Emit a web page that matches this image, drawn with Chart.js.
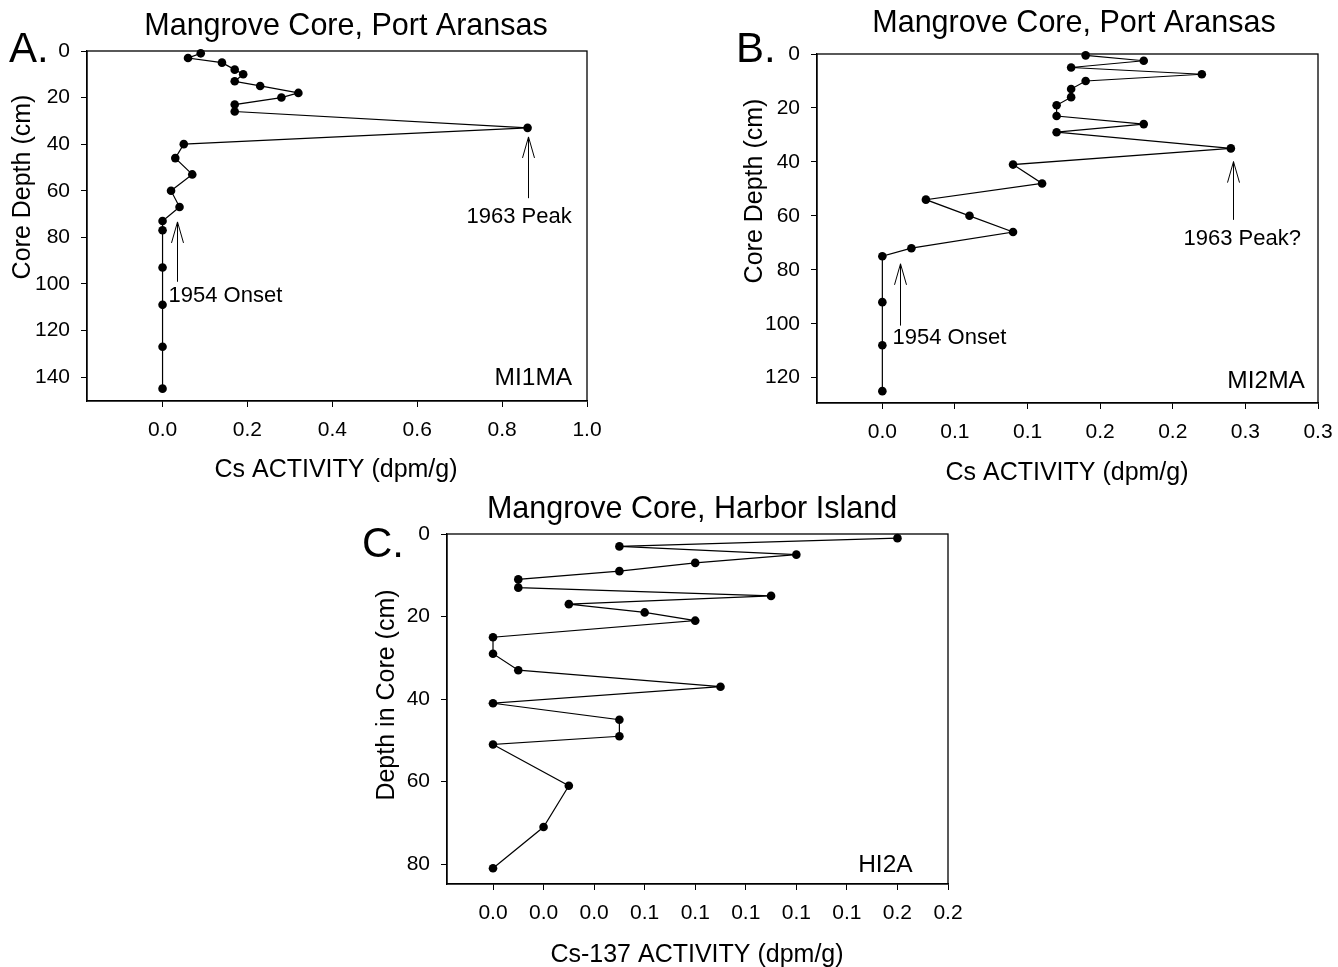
<!DOCTYPE html>
<html><head><meta charset="utf-8">
<script src="https://cdn.jsdelivr.net/npm/chart.js@4.4.0/dist/chart.umd.min.js"></script>
<style>
html,body{margin:0;padding:0;background:#fff;width:1338px;height:967px;overflow:hidden;}
.box{position:absolute;}
canvas{display:block;}
</style></head><body>
<div class="box" style="left:0;top:0;"><canvas id="cA" width="620" height="490"></canvas></div>
<div class="box" style="left:730px;top:0;"><canvas id="cB" width="620" height="490"></canvas></div>
<div class="box" style="left:360px;top:490px;"><canvas id="cC" width="620" height="477"></canvas></div>
<script>
// ---------- DATA ----------
const depthA = [1,3,5,8,10,13,15,18,20,23,26,33,40,46,53,60,67,73,77,93,109,127,145];
const csA    = [0.09,0.06,0.14,0.17,0.19,0.17,0.23,0.32,0.28,0.17,0.17,0.86,0.05,0.03,0.07,0.02,0.04,0,0,0,0,0,0];
const xTicksA = [0,0.2,0.4,0.6,0.8,1.0];
const xTickLabelsA = ['0.0','0.2','0.4','0.6','0.8','1.0'];
const yTicksA = [0,20,40,60,80,100,120,140];

const depthB = [0.5,2.5,5,7.5,10,13,16,19,23,26,29,35,41,48,54,60,66,72,75,92,108,125];
const csB    = [0.14,0.18,0.13,0.22,0.14,0.13,0.13,0.12,0.12,0.18,0.12,0.24,0.09,0.11,0.03,0.06,0.09,0.02,0,0,0,0];
const xTicksB = [0,0.05,0.1,0.15,0.2,0.25,0.3];
const xTickLabelsB = ['0.0','0.1','0.1','0.2','0.2','0.3','0.3'];
const yTicksB = [0,20,40,60,80,100,120];

const depthC = [1,3,5,7,9,11,13,15,17,19,21,25,29,33,37,41,45,49,51,61,71,81];
const csC    = [0.16,0.05,0.12,0.08,0.05,0.01,0.01,0.11,0.03,0.06,0.08,0,0,0.01,0.09,0,0.05,0.05,0,0.03,0.02,0];
const xTicksC = [0,0.02,0.04,0.06,0.08,0.10,0.12,0.14,0.16,0.18];
const xTickLabelsC = ['0.0','0.0','0.0','0.1','0.1','0.1','0.1','0.1','0.2','0.2'];
const yTicksC = [0,20,40,60,80];

// ---------- SETUP ----------
const FONT = "'Liberation Sans', Arial, sans-serif";
Chart.defaults.font.family = FONT;
Chart.defaults.color = '#000';

const decor = {
  id: 'decor',
  afterDraw(chart, args, o) {
    const ctx = chart.ctx, a = chart.chartArea, xs = chart.scales.x, ys = chart.scales.y;
    ctx.save();
    ctx.strokeStyle = '#000';
    ctx.lineWidth = 1.3;
    ctx.strokeRect(a.left, a.top, a.right - a.left, a.bottom - a.top);
    ctx.fillStyle = '#000';
    ctx.textBaseline = 'alphabetic';
    (o.texts || []).forEach(t => {
      ctx.font = t.size + 'px ' + FONT;
      ctx.textAlign = t.align || 'center';
      if (t.rot) {
        ctx.save();
        ctx.translate(t.x, t.y);
        ctx.rotate(-Math.PI / 2);
        ctx.fillText(t.text, 0, 0);
        ctx.restore();
      } else {
        ctx.fillText(t.text, t.x, t.y);
      }
    });
    (o.dataTexts || []).forEach(t => {
      ctx.font = t.size + 'px ' + FONT;
      ctx.textAlign = t.align || 'center';
      ctx.fillText(t.text, xs.getPixelForValue(t.x), ys.getPixelForValue(t.y));
    });
    ctx.lineWidth = 1;
    (o.arrows || []).forEach(ar => {
      const x = Math.round(xs.getPixelForValue(ar.x)) + 0.5;
      const yt = ys.getPixelForValue(ar.y1), yb = ys.getPixelForValue(ar.y2);
      ctx.beginPath();
      ctx.moveTo(x, yb); ctx.lineTo(x, yt);
      ctx.moveTo(x - 6, yt + 21); ctx.lineTo(x, yt); ctx.lineTo(x + 6, yt + 21);
      ctx.stroke();
    });
    ctx.restore();
  }
};

function makeChart(id, xs, ys, xmin, xmax, ymax, xTicks, xLabels, yTicks, xH, pad, decorOpts) {
  const pts = xs.map((v, i) => ({ x: v, y: ys[i] }));
  return new Chart(document.getElementById(id), {
    type: 'scatter',
    data: { datasets: [{
      data: pts, showLine: true, borderColor: '#000', borderWidth: 1.2,
      pointRadius: 4.3, pointBackgroundColor: '#000', pointBorderWidth: 0,
      clip: false, tension: 0
    }]},
    options: {
      responsive: false, animation: false, devicePixelRatio: 1,
      layout: { padding: pad },
      plugins: { legend: { display: false }, tooltip: { enabled: false }, decor: decorOpts },
      scales: {
        x: {
          type: 'linear', min: xmin, max: xmax,
          afterBuildTicks: s => { s.ticks = xTicks.map(v => ({ value: v })); },
          afterFit: s => { s.height = xH; },
          ticks: { callback: (v, i) => xLabels[i], font: { size: 21 }, padding: 11, color: '#000', maxRotation: 0, autoSkip: false },
          grid: { drawOnChartArea: false, drawTicks: true, tickLength: 6, tickColor: '#000', color: '#000' },
          border: { display: true, color: '#000', width: 1.3 }
        },
        y: {
          type: 'linear', reverse: true, min: 0, max: ymax,
          afterBuildTicks: s => { s.ticks = yTicks.map(v => ({ value: v })); },
          afterFit: s => { s.width = 87; },
          ticks: { callback: v => String(v), font: { size: 21 }, padding: 11, color: '#000', autoSkip: false },
          grid: { drawOnChartArea: false, drawTicks: true, tickLength: 6, tickColor: '#000', color: '#000' },
          border: { display: true, color: '#000', width: 1.3 }
        }
      }
    },
    plugins: [decor]
  });
}

makeChart('cA', csA, depthA, -0.178, 1.0, 150.3, xTicksA, xTickLabelsA, yTicksA, 89,
  { left: 0, right: 33, top: 51, bottom: 0 },
  {
    texts: [
      { text: 'A.', x: 9, y: 62, size: 42, align: 'left' },
      { text: 'Mangrove Core, Port Aransas', x: 346, y: 35, size: 30.5 },
      { text: 'Cs ACTIVITY (dpm/g)', x: 336, y: 477, size: 25 },
      { text: 'Core Depth (cm)', x: 30, y: 187, size: 25, rot: true }
    ],
    dataTexts: [
      { text: '1963 Peak', x: 0.84, y: 74, size: 22 },
      { text: '1954 Onset', x: 0.014, y: 107.7, size: 22, align: 'left' },
      { text: 'MI1MA', x: 0.965, y: 143.5, size: 24.5, align: 'right' }
    ],
    arrows: [ { x: 0.86, y1: 36.9, y2: 63.2 }, { x: 0.035, y1: 73.4, y2: 99.1 } ]
  });

makeChart('cB', csB, depthB, -0.045, 0.3, 129.4, xTicksB, xTickLabelsB, yTicksB, 87,
  { left: 0, right: 32, top: 54, bottom: 0 },
  {
    texts: [
      { text: 'B.', x: 6, y: 62, size: 42, align: 'left' },
      { text: 'Mangrove Core, Port Aransas', x: 344, y: 32, size: 30.5 },
      { text: 'Cs ACTIVITY (dpm/g)', x: 337, y: 480, size: 25 },
      { text: 'Core Depth (cm)', x: 32, y: 191, size: 25, rot: true }
    ],
    dataTexts: [
      { text: '1963 Peak?', x: 0.2478, y: 70.7, size: 22 },
      { text: '1954 Onset', x: 0.007, y: 107.4, size: 22, align: 'left' },
      { text: 'MI2MA', x: 0.291, y: 123.8, size: 24.5, align: 'right' }
    ],
    arrows: [ { x: 0.2414, y1: 39.9, y2: 61.5 }, { x: 0.0124, y1: 77.8, y2: 100.7 } ]
  });

makeChart('cC', csC, depthC, -0.0182, 0.18, 84.8, xTicksC, xTickLabelsC, yTicksC, 83,
  { left: 0, right: 32, top: 44, bottom: 0 },
  {
    texts: [
      { text: 'C.', x: 2, y: 67, size: 42, align: 'left' },
      { text: 'Mangrove Core, Harbor Island', x: 332, y: 28, size: 30.5 },
      { text: 'Cs-137 ACTIVITY (dpm/g)', x: 337, y: 472, size: 25 },
      { text: 'Depth in Core (cm)', x: 34, y: 205, size: 25, rot: true }
    ],
    dataTexts: [
      { text: 'HI2A', x: 0.166, y: 81.8, size: 24.5, align: 'right' }
    ],
    arrows: []
  });
</script>
</body></html>
